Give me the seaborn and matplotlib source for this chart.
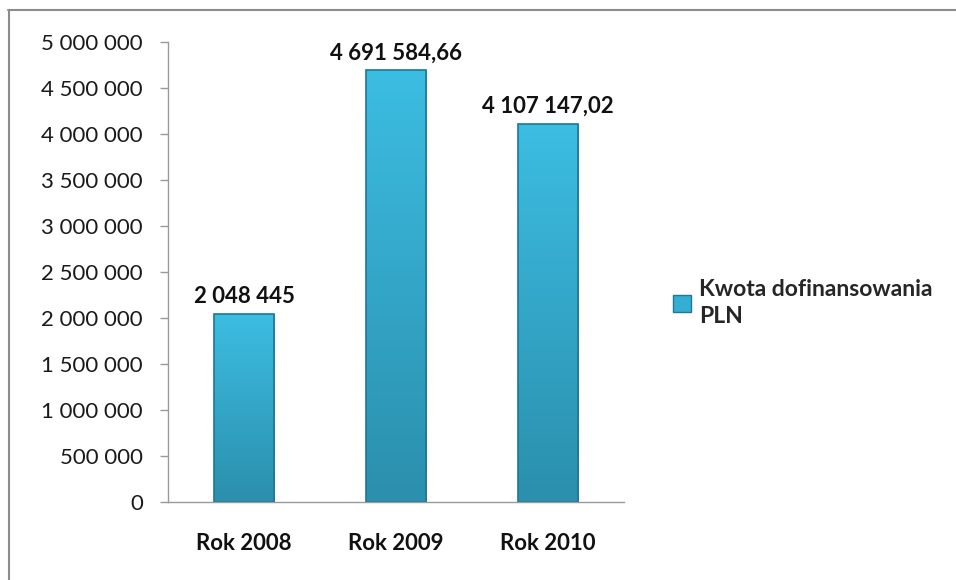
import matplotlib
matplotlib.use('Agg')
import matplotlib.pyplot as plt
from matplotlib.lines import Line2D
from matplotlib.patches import Patch
from matplotlib.colors import LinearSegmentedColormap
import seaborn as sns
import numpy as np
import pandas as pd

# data
years = ["Rok 2008", "Rok 2009", "Rok 2010"]
amounts = [2048445, 4691584.66, 4107147.02]
value_labels = ["2 048 445", "4 691 584,66", "4 107 147,02"]
series_name = "Kwota dofinansowania\nPLN"
yticks = [0, 500000, 1000000, 1500000, 2000000, 2500000, 3000000, 3500000, 4000000, 4500000, 5000000]
ytick_labels = ["0", "500 000", "1 000 000", "1 500 000", "2 000 000", "2 500 000",
                "3 000 000", "3 500 000", "4 000 000", "4 500 000", "5 000 000"]

sns.set_theme(style="white")
plt.rcParams['font.family'] = ['Lato', 'DejaVu Sans']

df = pd.DataFrame({"year": years, "amount": amounts})

fig = plt.figure(figsize=(9.56, 5.8), dpi=100)
ax = fig.add_axes([168 / 956, 1 - 502 / 580, (624 - 168) / 956, (502 - 42) / 580])

sns.barplot(data=df, x="year", y="amount", color="#34aed2", width=0.4,
            edgecolor="#1d7893", linewidth=1.2, ax=ax)

# vertical gradient inside each bar (light cyan at top, teal at bottom)
grad_cmap = LinearSegmentedColormap.from_list("bar", ["#2b8fad", "#3cbde2"])
grad = np.linspace(0, 1, 256).reshape(-1, 1)
for p in ax.patches:
    x0, y0 = p.get_x(), p.get_y()
    w, h = p.get_width(), p.get_height()
    im = ax.imshow(grad, cmap=grad_cmap, origin="lower", aspect="auto",
                   extent=[x0, x0 + w, y0, y0 + h], zorder=p.get_zorder())
    im.set_clip_path(p)
    p.set_facecolor("none")
    p.set_zorder(p.get_zorder() + 0.1)

ax.set_xlim(-0.5, 2.5)
ax.set_ylim(0, 5000000)
ax.set_yticks(yticks)
ax.set_yticklabels(ytick_labels, fontsize=16, color="#1a1a1a")
ax.set_xticks(range(len(years)))
ax.set_xticklabels(years, fontsize=16, fontweight="bold", color="#111111")
ax.set_xticks([-0.5, 0.5, 1.5, 2.5], minor=True)
ax.tick_params(axis="x", which="major", length=0, pad=22)
ax.tick_params(axis="x", which="minor", length=6, width=1, color="#999999", direction="out")
ax.tick_params(axis="y", length=6, width=1, color="#999999", direction="out", pad=12, left=True)
ax.set_xlabel("")
ax.set_ylabel("")

for s in ["top", "right"]:
    ax.spines[s].set_visible(False)
for s in ["left", "bottom"]:
    ax.spines[s].set_color("#999999")
    ax.spines[s].set_linewidth(1)

for i, (v, lab) in enumerate(zip(amounts, value_labels)):
    ax.annotate(lab, (i, v), xytext=(0, 5), textcoords="offset points",
                ha="center", va="bottom", fontsize=16, fontweight="bold", color="#111111")

handle = Patch(facecolor="#34aed2", edgecolor="#1d7893", linewidth=1)
leg = fig.legend([handle], [series_name], loc="center left", bbox_to_anchor=(652 / 956, 1 - 303 / 580),
                 frameon=False, prop={"weight": "bold", "size": 16.5},
                 handlelength=0.8, handleheight=0.8, handletextpad=0.35)
for t in leg.get_texts():
    t.set_linespacing(1.35)

# outer chart frame
fig.add_artist(Line2D([8 / 956, 1], [1 - 9.5 / 580, 1 - 9.5 / 580], transform=fig.transFigure,
                      color="#8c8c8c", lw=1.5))
fig.add_artist(Line2D([8.5 / 956, 8.5 / 956], [0, 1 - 9.5 / 580], transform=fig.transFigure,
                      color="#8c8c8c", lw=1.5))

fig.savefig("out.png", dpi=100, facecolor="white")
